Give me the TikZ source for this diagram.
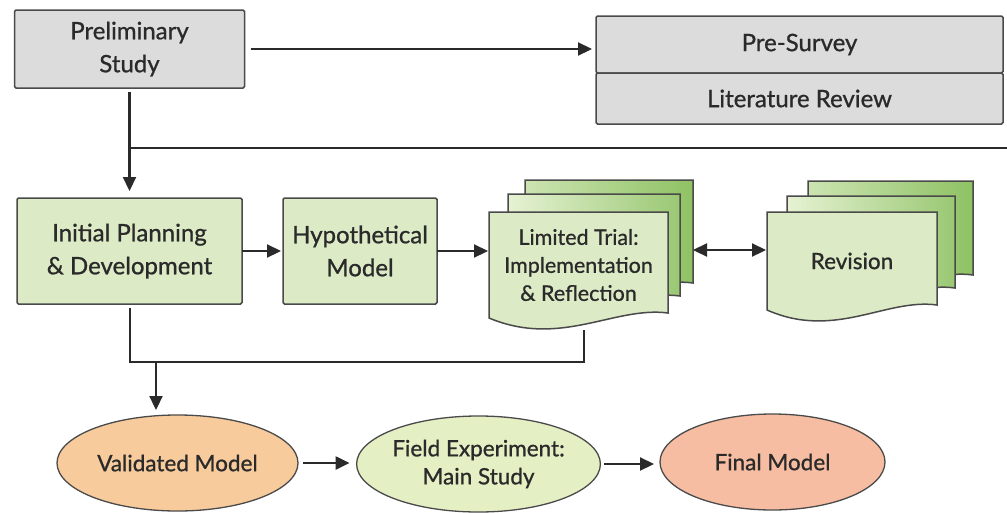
\documentclass[tikz,border=0pt]{standalone}
\usepackage{fontspec}
\setmainfont{Lato}
\newfontfamily\labelfont{Lato}[FakeBold=0.9]
\usetikzlibrary{arrows.meta,positioning,shapes.geometric,calc}
\definecolor{ink}{HTML}{2A2A2A}
\definecolor{edge}{HTML}{4A4A4A}
\definecolor{grayfill}{HTML}{DCDCDC}
\definecolor{greenfill}{HTML}{DCEBC6}
\definecolor{pagedark}{HTML}{8FC264}
\definecolor{pagelight}{HTML}{E6F2D3}
\definecolor{peach}{HTML}{F7CB9C}
\definecolor{lime}{HTML}{E5EFC4}
\definecolor{salmon}{HTML}{F6BDA2}
% one sheet of a stack: left, top, right, bottom, fill
\newcommand{\docpage}[5]{%
  \draw[page,#5] (#1,#2) -- (#3,#2) -- (#3,#4-5)
    .. controls ({#1+0.7*(#3-#1)},#4-12) and ({#1+0.4*(#3-#1)},#4+30) .. (#1,#4) -- cycle;}
\tikzset{
  box/.style={draw=edge,line width=1.5pt,rounded corners=1.5pt,align=center,inner sep=0pt,outer sep=0pt,
    text=ink,font=\labelfont\fontsize{24}{33}\selectfont},
  gbox/.style={box,fill=grayfill},
  pbox/.style={box,fill=greenfill},
  doc/.style={align=center,inner sep=0pt,outer sep=0pt,text=ink,font=\labelfont\fontsize{21.5}{28}\selectfont},
  oval/.style={ellipse,draw=edge,line width=1.3pt,align=center,inner sep=0pt,outer sep=0pt,
    text=ink,font=\labelfont\fontsize{22.5}{28}\selectfont},
  page/.style={draw=edge,line width=1.5pt},
  ar/.style={-{Triangle[length=14pt,width=13pt]},line width=2.2pt,draw=ink},
  ln/.style={line width=2pt,draw=ink},
}
\begin{document}
\begin{tikzpicture}[x=1pt,y=-1pt]
  \useasboundingbox (0,0) rectangle (1007,512);

  % top row
  \node[gbox, minimum width=230, minimum height=78] (prelim) at (129.5,49) {Preliminary\\Study};
  \node[gbox, minimum width=407, minimum height=57] (survey) at (799.5,44.5) {Pre-Survey};
  \node[gbox, minimum width=407, minimum height=51, below=0pt of survey] (review) {Literature Review};

  % middle row
  \node[pbox, minimum width=225, minimum height=106] (init) at (129.5,251) {Initial Planning\\\& Development};
  \node[pbox, minimum width=154, minimum height=106, right=41pt of init] (hypo) {Hypothetical\\Model};

  \docpage{525}{180}{693}{288}{left color=pagelight!70!pagedark,right color=pagedark}
  \docpage{508}{194}{680}{301}{left color=pagelight,right color=pagedark!90}
  \docpage{489}{212}{668}{318}{fill=greenfill}
  \node[doc, minimum width=179, minimum height=106] (trial) at (578.5,265) {Limited Trial:\\Implementation\\\& Reflection};

  \docpage{808}{181}{973}{280}{left color=pagelight!70!pagedark,right color=pagedark}
  \docpage{787}{196}{955}{293}{left color=pagelight,right color=pagedark!90}
  \docpage{767}{212}{937}{310}{fill=greenfill}
  \node[doc, font=\labelfont\fontsize{22.5}{28}\selectfont, minimum width=170, minimum height=98] (rev) at (852,261) {Revision};

  % bottom row
  \node[oval, fill=peach, minimum width=241, minimum height=96] (valid) at (177.5,463) {Validated Model};
  \node[oval, fill=lime, minimum width=233, minimum height=96] (field) at (478.5,464) {Field Experiment:\\Main Study};
  \node[oval, fill=salmon, minimum width=225, minimum height=96] (final) at (772.5,462) {Final Model};

  \coordinate (fork) at (129.5,148);
  \coordinate (offpage) at (1007,148);
  \coordinate (join) at (584,362);
  \coordinate (trialfoot) at (584,330);
  \coordinate (drop) at (156,362);

  \draw[ar, shorten <=6pt, shorten >=4pt] (prelim.east) -- (prelim.east -| survey.west);
  \draw[ar, shorten <=4pt, shorten >=7pt] (prelim.south) -- (init.north);
  \draw[ln, line width=1.5pt] (fork) -- (offpage);
  \draw[ar, shorten >=2pt] (init.east) -- (hypo.west);
  \draw[ar, shorten >=1pt] (hypo.east) -- (hypo.east -| trial.west);
  \draw[ar, {Triangle[length=14pt,width=13pt]}-{Triangle[length=14pt,width=13pt]}, shorten <=25pt, shorten >=1pt]
    ([yshift=15pt]trial.east) -- ([yshift=15pt]trial.east -| rev.west);
  \draw[ln, shorten <=4pt] (init.south) |- (join) -- (trialfoot);
  \draw[ar, shorten >=5pt] (drop) -- (drop |- valid.north);
  \draw[ar, shorten <=5pt, shorten >=7pt] (valid.east) -- (valid.east -| field.west);
  \draw[ar, shorten <=4pt, shorten >=6pt] (field.east) -- (field.east -| final.west);
\end{tikzpicture}
\end{document}
